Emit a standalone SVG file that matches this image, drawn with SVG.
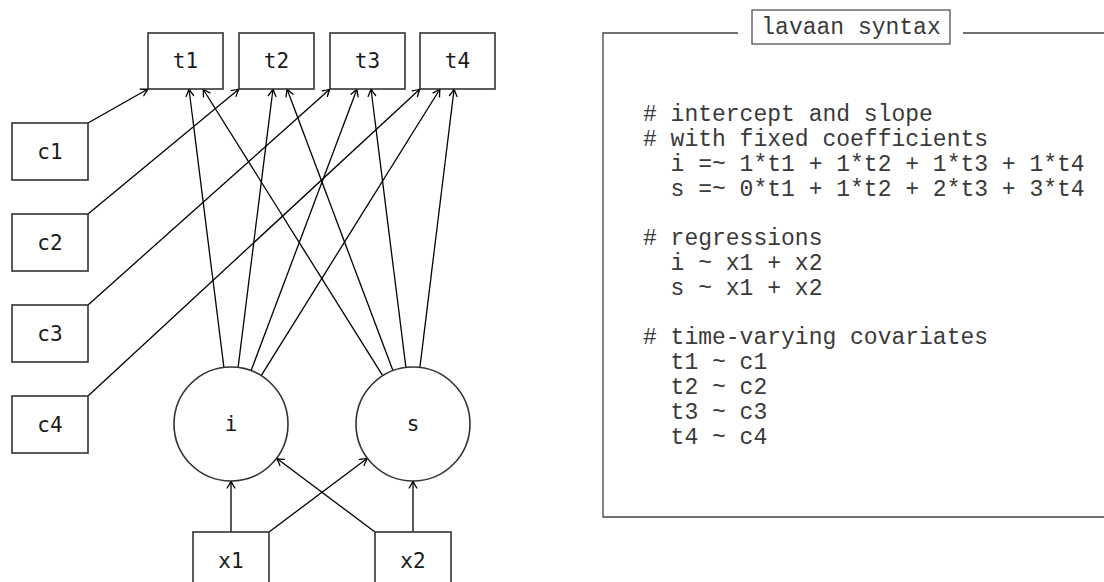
<svg xmlns="http://www.w3.org/2000/svg" width="1104" height="582" viewBox="0 0 1104 582">
<defs>
<marker id="arr" viewBox="-9 -5 10 10" markerWidth="10" markerHeight="10" refX="0" refY="0" orient="auto" markerUnits="userSpaceOnUse">
<path d="M -7,-3.8 Q -2.5,-1 0,0 Q -2.5,1 -7,3.8" fill="none" stroke="#000" stroke-width="1.3" stroke-linecap="round" stroke-linejoin="round"/>
</marker>
<style>
.box{fill:#fff;stroke:#333;stroke-width:1.6}
.lat{fill:#fff;stroke:#333;stroke-width:1.6}
.lbl{font-family:"DejaVu Sans Mono","Liberation Mono",monospace;font-size:21px;fill:#1a1a1a;text-anchor:middle;dominant-baseline:central}
.edge{stroke:#000;stroke-width:1.3;fill:none;marker-end:url(#arr)}
.code{font-family:"Liberation Mono","Courier New",monospace;font-size:23px;fill:#3a3a3a;white-space:pre}
.frame{stroke:#444;stroke-width:1.3;fill:none}
</style>
</defs>
<rect width="1104" height="582" fill="#fff"/>
<g id="connectors">
<line class="edge" x1="88" y1="123" x2="148" y2="89"/>
<line class="edge" x1="88" y1="214" x2="239" y2="89"/>
<line class="edge" x1="88" y1="305" x2="330" y2="89"/>
<line class="edge" x1="88" y1="396" x2="420" y2="89"/>
<line class="edge" x1="223.9" y1="367.4" x2="189" y2="89"/>
<line class="edge" x1="238.1" y1="367.4" x2="273" y2="89"/>
<line class="edge" x1="251.1" y1="370.6" x2="357" y2="89"/>
<line class="edge" x1="261.2" y1="375.6" x2="440" y2="89"/>
<line class="edge" x1="382.7" y1="375.7" x2="203" y2="89"/>
<line class="edge" x1="392.9" y1="370.6" x2="287" y2="89"/>
<line class="edge" x1="405.9" y1="367.4" x2="371" y2="89"/>
<line class="edge" x1="419.9" y1="367.4" x2="454.1" y2="89"/>
<line class="edge" x1="231" y1="532" x2="231" y2="481"/>
<line class="edge" x1="269" y1="532" x2="367.4" y2="458.2"/>
<line class="edge" x1="375" y1="532" x2="276.6" y2="458.3"/>
<line class="edge" x1="413" y1="532" x2="413" y2="481"/>
</g>
<g id="t1"><rect class="box" x="148" y="33" width="75" height="56"/><text class="lbl" x="185.5" y="61">t1</text></g>
<g id="t2"><rect class="box" x="239" y="33" width="75" height="56"/><text class="lbl" x="276.5" y="61">t2</text></g>
<g id="t3"><rect class="box" x="330" y="33" width="75" height="56"/><text class="lbl" x="367.5" y="61">t3</text></g>
<g id="t4"><rect class="box" x="420" y="33" width="75" height="56"/><text class="lbl" x="457.5" y="61">t4</text></g>
<g id="c1"><rect class="box" x="12" y="123" width="76" height="57"/><text class="lbl" x="50" y="151.5">c1</text></g>
<g id="c2"><rect class="box" x="12" y="214" width="76" height="57"/><text class="lbl" x="50" y="242.5">c2</text></g>
<g id="c3"><rect class="box" x="12" y="305" width="76" height="57"/><text class="lbl" x="50" y="333.5">c3</text></g>
<g id="c4"><rect class="box" x="12" y="396" width="76" height="57"/><text class="lbl" x="50" y="424.5">c4</text></g>
<g id="i"><circle class="lat" cx="231" cy="424" r="57"/><text class="lbl" x="231" y="424">i</text></g>
<g id="s"><circle class="lat" cx="413" cy="424" r="57"/><text class="lbl" x="413" y="424">s</text></g>
<g id="x1"><rect class="box" x="193" y="532" width="76" height="57"/><text class="lbl" x="231" y="560.5">x1</text></g>
<g id="x2"><rect class="box" x="375" y="532" width="76" height="57"/><text class="lbl" x="413" y="560.5">x2</text></g>
<g id="lavaan-panel">
<path class="frame" d="M 738,33 H 603 V 517 H 1104 M 963,33 H 1104"/>
<rect x="752" y="10" width="198" height="34" fill="#fff" stroke="#444" stroke-width="1.2"/>
<text class="code" x="851" y="34" text-anchor="middle">lavaan syntax</text>
<text class="code" x="643" y="121">
<tspan x="643" y="121"># intercept and slope</tspan>
<tspan x="643" y="146"># with fixed coefficients</tspan>
<tspan x="643" y="171">  i =~ 1*t1 + 1*t2 + 1*t3 + 1*t4</tspan>
<tspan x="643" y="196">  s =~ 0*t1 + 1*t2 + 2*t3 + 3*t4</tspan>
<tspan x="643" y="245"># regressions</tspan>
<tspan x="643" y="270">  i ~ x1 + x2</tspan>
<tspan x="643" y="295">  s ~ x1 + x2</tspan>
<tspan x="643" y="344"># time-varying covariates</tspan>
<tspan x="643" y="369">  t1 ~ c1</tspan>
<tspan x="643" y="394">  t2 ~ c2</tspan>
<tspan x="643" y="419">  t3 ~ c3</tspan>
<tspan x="643" y="444">  t4 ~ c4</tspan>
</text>
</g>
</svg>
